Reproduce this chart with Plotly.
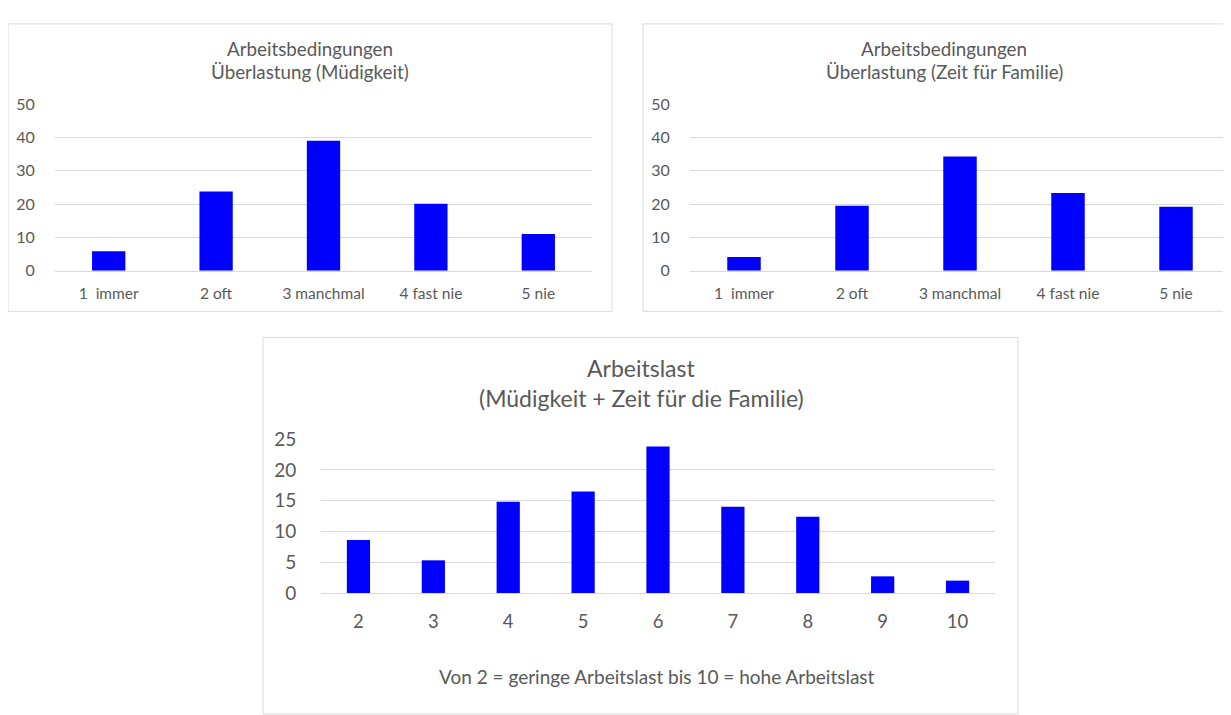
import plotly.graph_objects as go

W, H = 1231, 715
OFF = 8  # page offset of the plot div

cats_top = ["1  immer", "2 oft", "3 manchmal", "4 fast nie", "5 nie"]
vals_muedigkeit = [5.8, 23.8, 39.0, 20.1, 11.0]
vals_familie = [4.1, 19.5, 34.3, 23.3, 19.2]
title_left = ["Arbeitsbedingungen", "Überlastung (Müdigkeit)"]
title_right = ["Arbeitsbedingungen", "Überlastung (Zeit für Familie)"]

cats_bottom = ["2", "3", "4", "5", "6", "7", "8", "9", "10"]
vals_arbeitslast = [8.6, 5.3, 14.8, 16.5, 23.8, 14.0, 12.4, 2.7, 2.0]
title_bottom = ["Arbeitslast", "(Müdigkeit + Zeit für die Familie)"]
xtitle_bottom = "Von 2 = geringe Arbeitslast bis 10 = hohe Arbeitslast"

FONT = "Lato, 'Open Sans', sans-serif"
GRAY = "#595959"
GRID = "#d9d9d9"
BLUE = "#0000FF"


def px(x):
    return (x - OFF) / W


def py(y):
    return 1 - (y - OFF) / H


fig = go.Figure()
fig.add_trace(go.Bar(x=cats_top, y=vals_muedigkeit, marker_color=BLUE,
                     marker_line_width=0, xaxis="x", yaxis="y"))
fig.add_trace(go.Bar(x=cats_top, y=vals_familie, marker_color=BLUE,
                     marker_line_width=0, xaxis="x2", yaxis="y2"))
fig.add_trace(go.Bar(x=cats_bottom, y=vals_arbeitslast, marker_color=BLUE,
                     marker_line_width=0, xaxis="x3", yaxis="y3"))


def xax(domain, anchor, size, ticklen):
    return dict(domain=domain, anchor=anchor, type="category",
                showgrid=False, showline=True, linecolor=GRID, linewidth=1,
                ticks="outside", ticklen=ticklen, tickcolor="rgba(0,0,0,0)",
                tickfont=dict(family=FONT, size=size, color=GRAY),
                fixedrange=True)


def yax(domain, anchor, rng, dtick, size, ticklen):
    return dict(domain=domain, anchor=anchor, range=rng, dtick=dtick,
                showgrid=True, gridcolor=GRID, gridwidth=1, zeroline=False,
                showline=False, ticks="outside", ticklen=ticklen,
                tickcolor="rgba(0,0,0,0)",
                tickfont=dict(family=FONT, size=size, color=GRAY),
                fixedrange=True)


fig.update_layout(
    width=W, height=H,
    margin=dict(l=0, r=0, t=0, b=0),
    paper_bgcolor="white", plot_bgcolor="white",
    showlegend=False, bargap=0.69,
    xaxis=xax([px(55), px(592)], "y", 15.5, 9),
    yaxis=yax([py(267), py(95)], "x", [0, 50], 10, 16, 16),
    xaxis2=xax([px(690), px(1230)], "y2", 15.5, 9),
    yaxis2=yax([py(267), py(95)], "x2", [0, 50], 10, 16, 16),
    xaxis3=xax([px(321), px(995)], "y3", 18.5, 12),
    yaxis3=yax([py(600), py(441)], "x3", [0, 25], 5, 19, 20),
)

# chart boxes
for (x0, y0, x1, y1) in [(8, 12, 612, 309), (643, 12, 1240, 309), (263, 336, 1018, 725)]:
    fig.add_shape(type="rect", xref="paper", yref="paper",
                  x0=px(x0), y0=py(y0), x1=px(x1), y1=py(y1),
                  line=dict(color=GRID, width=1), fillcolor="rgba(0,0,0,0)")


def label(x, y, text, size):
    fig.add_annotation(x=px(x), y=py(y), xref="paper", yref="paper",
                       text=text, showarrow=False, xanchor="center",
                       yanchor="middle",
                       font=dict(family=FONT, size=size, color=GRAY))


label(310, 37, title_left[0], 18.8)
label(310, 61, title_left[1], 18.8)
label(944, 37, title_right[0], 18.8)
label(944, 61, title_right[1], 18.8)
label(641, 368, title_bottom[0], 23)
label(641, 399, title_bottom[1], 23)
label(657, 686, xtitle_bottom, 19)

fig.write_html("out.html")
